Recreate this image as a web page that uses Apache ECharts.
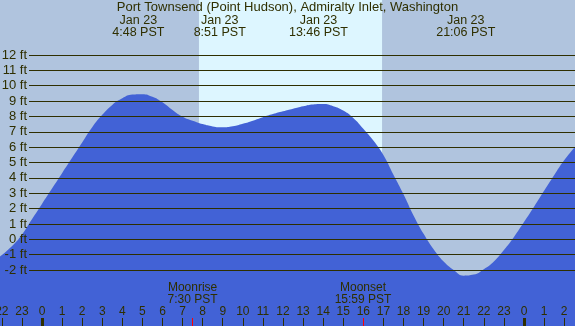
<!DOCTYPE html>
<html lang="en">
<head>
<meta charset="UTF-8">
<title>Port Townsend (Point Hudson) tide</title>
<script src="https://cdn.jsdelivr.net/npm/echarts@6/dist/echarts.min.js"></script>
<style>
  html, body { margin: 0; padding: 0; }
  #chart { width: 575px; height: 326px; }
</style>
</head>
<body>
<div id="chart"></div>
<script>
// tide height: hours from Jan 23 00:00 PST, feet
const tideHours = [-2.1, -1.5, -1, -0.5, 0, 0.5, 1, 1.5, 2, 2.5, 3, 3.5, 4, 4.5, 5, 5.5, 6, 6.5,
    7, 7.5, 8, 8.5, 9, 9.5, 10, 10.5, 11, 11.5, 12, 12.5, 13, 13.5, 14, 14.5, 15, 15.5,
    16, 16.5, 17, 17.5, 18, 18.5, 19, 19.5, 20, 20.5, 21, 21.5, 22, 22.5, 23, 23.5, 24, 24.5,
    25, 25.5, 26, 26.6];
const tideFeet = [-1.13, -0.45, 0.3, 1.3, 2.3, 3.3, 4.3, 5.3, 6.3, 7.3, 8.1, 8.75, 9.18, 9.42, 9.45, 9.28,
    8.92, 8.42, 7.98, 7.72, 7.5, 7.35, 7.29, 7.36, 7.52, 7.72, 7.95, 8.15, 8.33, 8.5, 8.66, 8.78, 8.8,
    8.66, 8.38, 7.9, 7.2, 6.43, 5.48, 4.2, 2.93, 1.55, 0.35, -0.65, -1.45, -2.0, -2.37, -2.3, -1.95,
    -1.45, -0.7, 0.15, 1.12, 2.12, 3.15, 4.17, 5.15, 6.1];

const stationName = 'Port Townsend (Point Hudson), Admiralty Inlet, Washington';
const dayLabel = 'Jan 23';
const extremeTimes = ['4:48', '8:51', '13:46', '21:06'];
const moonNames = ['Moonrise', 'Moonset'];
const moonTimes = ['7:30', '15:59'];
const sunTimes = ['7:49', '16:56'];
const hourTicks = [-2, -1, 0, 1, 2, 3, 4, 5, 6, 7, 8, 9, 10, 11, 12, 13, 14, 15, 16, 17, 18, 19, 20,
    21, 22, 23, 24, 25, 26];
const midnightTicks = [0, 24];

// visible window
const viewStart = -2.09, viewEnd = 26.54;
const feetLow = -5.65, feetHigh = 15.58;

const ink = '#2f2f00';
const font = '"Liberation Sans", Arial, sans-serif';

function toHours(s) {
    const p = s.split(':');
    return +p[0] + p[1] / 60;
}
const extremeHours = extremeTimes.map(toHours);
const moonHours = moonTimes.map(toHours);
const sunHours = sunTimes.map(toHours);

function nearest(list, v) {
    let best = 0;
    list.forEach((x, i) => { if (Math.abs(x - v) < Math.abs(list[best] - v)) best = i; });
    return best;
}

const labelText = {color: ink, fontSize: 12, fontFamily: font};

function hourAxis(extra) {
    return Object.assign({
        gridIndex: 0, type: 'value', min: viewStart, max: viewEnd, position: 'bottom', z: 10,
        axisLine: {show: false, onZero: false}, splitLine: {show: false}
    }, extra);
}

const chart = echarts.init(document.getElementById('chart'));
chart.setOption({
    animation: false,
    backgroundColor: '#B0C4DE',
    textStyle: {fontFamily: font},
    title: {
        text: stationName, left: 'center', top: 0, padding: 0,
        textStyle: {color: ink, fontSize: 13, fontWeight: 'normal', fontFamily: font, lineHeight: 14}
    },
    grid: [
        {left: 0, right: 0, top: 0, bottom: 0, outerBoundsMode: 'none', containLabel: false},
        {left: 29, right: 0, top: 55, bottom: 56, outerBoundsMode: 'none', containLabel: false}
    ],
    xAxis: [
        hourAxis({
            axisTick: {inside: true, length: 8, customValues: hourTicks, lineStyle: {color: ink, width: 1}},
            axisLabel: Object.assign({
                inside: true, margin: 8, customValues: hourTicks,
                formatter: v => String(((v % 24) + 24) % 24)
            }, labelText)
        }),
        hourAxis({
            axisTick: {inside: true, length: 8, customValues: midnightTicks, lineStyle: {color: ink, width: 3}},
            axisLabel: {show: false}
        }),
        hourAxis({
            axisTick: {inside: true, length: 8, customValues: moonHours, lineStyle: {color: '#ff0000', width: 1}},
            axisLabel: Object.assign({
                inside: true, margin: 20, customValues: moonHours, lineHeight: 12,
                formatter: v => {
                    const i = nearest(moonHours, v);
                    return moonNames[i] + '\n' + moonTimes[i] + ' PST';
                }
            }, labelText)
        }),
        hourAxis({
            position: 'top',
            axisTick: {show: false},
            axisLabel: Object.assign({
                inside: true, margin: 14, customValues: extremeHours, lineHeight: 12.5,
                formatter: v => dayLabel + '\n' + extremeTimes[nearest(extremeHours, v)] + ' PST'
            }, labelText, {fontSize: 12.5})
        }),
        {gridIndex: 1, type: 'value', min: viewStart, max: viewEnd, show: false}
    ],
    yAxis: [
        {gridIndex: 0, type: 'value', min: feetLow, max: feetHigh, show: false},
        {
            gridIndex: 1, type: 'value', min: -2, max: 12, interval: 1, z: 5,
            axisLine: {show: false}, axisTick: {show: false},
            splitLine: {show: true, lineStyle: {color: ink, width: 1}},
            axisLabel: Object.assign({formatter: '{value} ft', margin: 2}, labelText, {fontSize: 13})
        }
    ],
    series: [
        {
            // daylight band
            type: 'line', xAxisIndex: 0, yAxisIndex: 0, data: [], z: 1, silent: true,
            markArea: {
                silent: true, itemStyle: {color: '#DDF6FF'},
                data: [[{xAxis: sunHours[0]}, {xAxis: sunHours[1]}]]
            }
        },
        {
            type: 'line', xAxisIndex: 0, yAxisIndex: 0, z: 2, silent: true,
            data: tideHours.map((h, i) => [h, tideFeet[i]]),
            smooth: true, showSymbol: false,
            lineStyle: {width: 0},
            areaStyle: {color: '#4262D6', opacity: 1, origin: 'start'}
        }
    ]
});
</script>
</body>
</html>
